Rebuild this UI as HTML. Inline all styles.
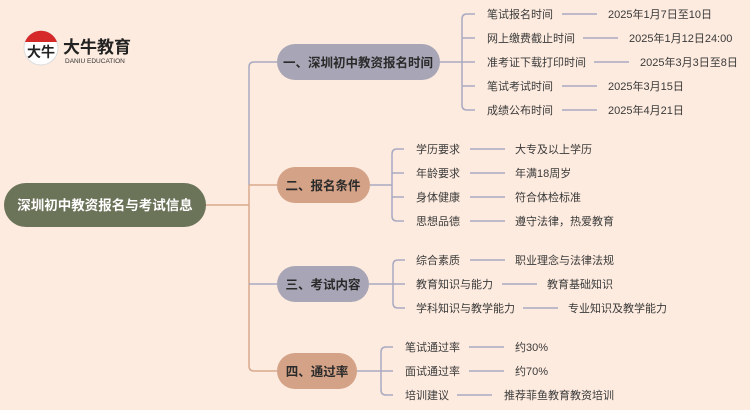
<!DOCTYPE html>
<html><head><meta charset="utf-8"><style>
html,body{margin:0;padding:0;background:#fdebdf;}
svg{display:block;font-family:"Liberation Sans","Noto Sans CJK SC",sans-serif;}
.t{font-size:11px;fill:#3a3a3a;}
.b{font-size:12.5px;font-weight:bold;fill:#2a2a2a;}
</style></head><body>
<svg width="750" height="410" viewBox="0 0 750 410" xmlns="http://www.w3.org/2000/svg">
<rect width="750" height="410" fill="#fdebdf"/>
<!-- logo -->
<circle cx="41" cy="48" r="17" fill="#fff" stroke="#ddd"/>
<path d="M25 42 A17 17 0 0 1 57 42 Z" fill="#d62a2a"/>
<text x="27" y="57" font-size="14" fill="#222" font-weight="bold">大牛</text>
<text x="63" y="53" font-size="17" font-weight="bold" fill="#222">大牛教育</text>
<text x="65" y="63" font-size="6.5" fill="#333">DANIU EDUCATION</text>
<!-- trunk -->
<path d="M206 205 H249" stroke="#d9a98d" stroke-width="1.5" fill="none"/>
<path d="M277 62 H254 Q249 62 249 67 V185" stroke="#a9a9c2" stroke-width="1.5" fill="none"/>
<path d="M249 185 V366 Q249 371 254 371 H277 M249 185 H277" stroke="#d9a98d" stroke-width="1.5" fill="none"/>
<path d="M249 284 H277" stroke="#a9a9c2" stroke-width="1.5" fill="none"/>
<!-- root -->
<rect x="4" y="183" width="202" height="44" rx="22" fill="#6b7359"/>
<text x="105" y="210" text-anchor="middle" font-size="13.5" font-weight="bold" fill="#fff">深圳初中教资报名与考试信息</text>
<!-- branches -->
<rect x="277" y="44" width="163" height="36" rx="18" fill="#a8a6b6"/>
<text x="358" y="67" text-anchor="middle" class="b">一、深圳初中教资报名时间</text>
<rect x="277" y="167" width="93" height="36" rx="18" fill="#d4a286"/>
<text x="323" y="190" text-anchor="middle" class="b">二、报名条件</text>
<rect x="277" y="266" width="92" height="36" rx="18" fill="#a8a6b6"/>
<text x="323" y="289" text-anchor="middle" class="b">三、考试内容</text>
<rect x="277" y="353" width="80" height="36" rx="18" fill="#d4a286"/>
<text x="317" y="376" text-anchor="middle" class="b">四、通过率</text>
<g stroke="#a9a9c2" stroke-width="1.5" fill="none">
<path d="M440 62 H475 M475 14 H467 Q462 14 462 19 V105 Q462 110 467 110 H475 M462 38 H475 M462 86 H475"/>
<path d="M562 14 H597 M583 38 H618 M594 62 H629 M562 86 H597 M562 110 H597"/>
<path d="M370 185 H392 M404 149 H397 Q392 149 392 154 V216 Q392 221 397 221 H404 M392 173 H404 M392 197 H404"/>
<path d="M470 149 H505 M470 173 H505 M470 197 H505 M470 221 H505"/>
<path d="M369 284 H393 M405 260 H398 Q393 260 393 265 V303 Q393 308 398 308 H405 M393 284 H405"/>
<path d="M470 260 H505 M502 284 H537 M523 308 H558"/>
<path d="M357 371 H381 M393 347 H386 Q381 347 381 352 V390 Q381 395 386 395 H393 M381 371 H393"/>
<path d="M469 347 H504 M469 371 H504 M457 395 H492"/>
</g>
<g class="t">
<text x="487" y="18">笔试报名时间</text><text x="608" y="18">2025年1月7日至10日</text>
<text x="487" y="42">网上缴费截止时间</text><text x="629" y="42">2025年1月12日24:00</text>
<text x="487" y="66">准考证下载打印时间</text><text x="640" y="66">2025年3月3日至8日</text>
<text x="487" y="90">笔试考试时间</text><text x="608" y="90">2025年3月15日</text>
<text x="487" y="114">成绩公布时间</text><text x="608" y="114">2025年4月21日</text>
<text x="416" y="153">学历要求</text><text x="515" y="153">大专及以上学历</text>
<text x="416" y="177">年龄要求</text><text x="515" y="177">年满18周岁</text>
<text x="416" y="201">身体健康</text><text x="515" y="201">符合体检标准</text>
<text x="416" y="225">思想品德</text><text x="515" y="225">遵守法律，热爱教育</text>
<text x="416" y="264">综合素质</text><text x="515" y="264">职业理念与法律法规</text>
<text x="416" y="288">教育知识与能力</text><text x="547" y="288">教育基础知识</text>
<text x="416" y="312">学科知识与教学能力</text><text x="568" y="312">专业知识及教学能力</text>
<text x="405" y="351">笔试通过率</text><text x="515" y="351">约30%</text>
<text x="405" y="375">面试通过率</text><text x="515" y="375">约70%</text>
<text x="405" y="399">培训建议</text><text x="504" y="399">推荐菲鱼教育教资培训</text>
</g>
</svg>
</body></html>
